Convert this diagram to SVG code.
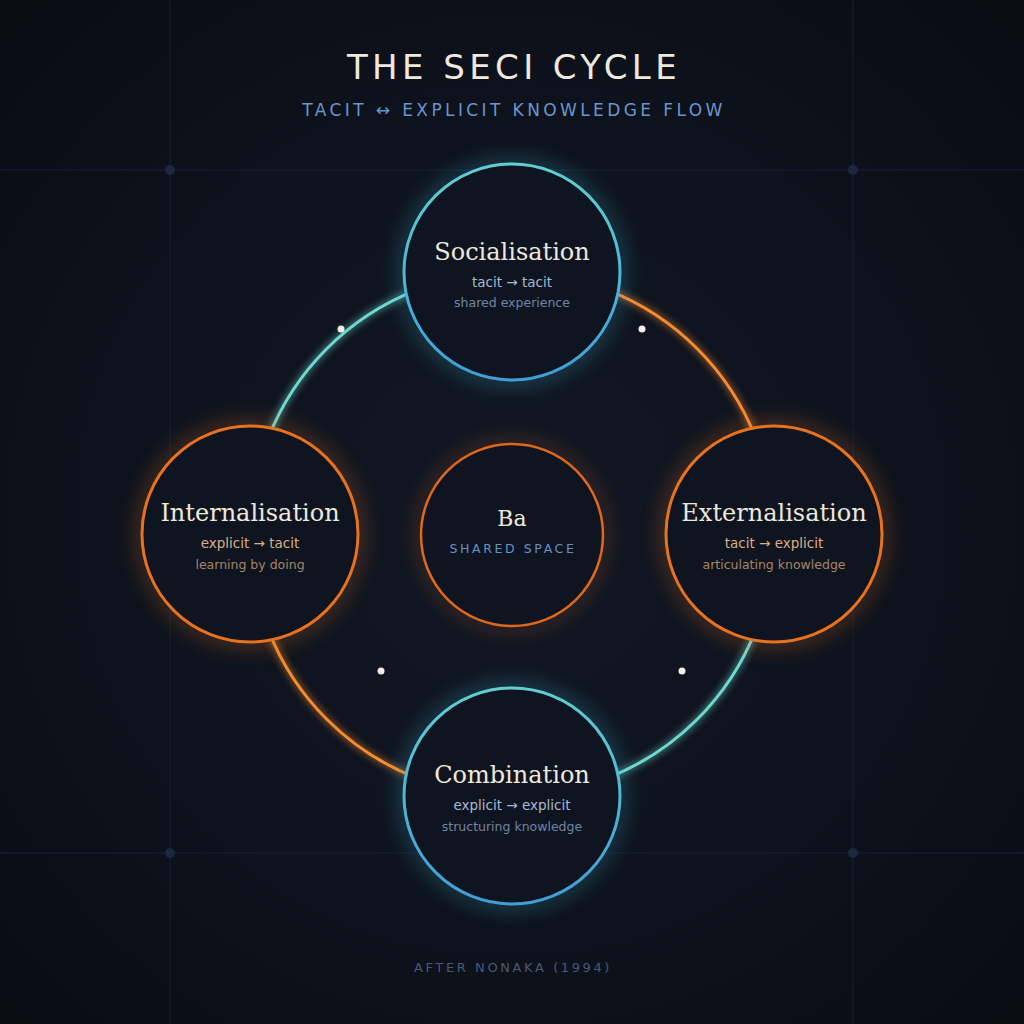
<svg xmlns="http://www.w3.org/2000/svg" width="1024" height="1024" viewBox="0 0 1024 1024">
  <defs>
    <radialGradient id="bg" cx="512" cy="520" r="700" gradientUnits="userSpaceOnUse">
      <stop offset="0" stop-color="#111724"/>
      <stop offset="0.6" stop-color="#0d121c"/>
      <stop offset="1" stop-color="#090c13"/>
    </radialGradient>
    <linearGradient id="tealStroke" x1="0" y1="0" x2="0" y2="1">
      <stop offset="0" stop-color="#5fd0d2"/>
      <stop offset="1" stop-color="#3f9ed6"/>
    </linearGradient>
    <filter id="glowBig" x="-50%" y="-50%" width="200%" height="200%">
      <feGaussianBlur stdDeviation="10"/>
    </filter>
    <filter id="glowArc" x="-20%" y="-20%" width="140%" height="140%">
      <feGaussianBlur stdDeviation="3.5"/>
    </filter>
    <style>
      .title{font-family:"DejaVu Sans",sans-serif;font-size:34px;letter-spacing:4.4px;fill:#efe9df;text-anchor:middle}
      .subtitle{font-family:"DejaVu Sans",sans-serif;font-size:17px;letter-spacing:3.4px;fill:#6a96cf;text-anchor:middle}
      .footer{font-family:"DejaVu Sans",sans-serif;font-size:13px;letter-spacing:2.6px;fill:#4a5876;text-anchor:middle}
      .grid{stroke:#172036;stroke-width:1;fill:none}
      .gdot{fill:#1c2740}
      .nfill{fill:#0f1520}
      .tealS{fill:none;stroke:url(#tealStroke);stroke-width:3}
      .orS{fill:none;stroke:#e8721d;stroke-width:3}
      .tealG{fill:none;stroke:#3fb3d0;stroke-width:8;opacity:0.5;filter:url(#glowBig)}
      .orG{fill:none;stroke:#e8721d;stroke-width:8;opacity:0.5;filter:url(#glowBig)}
      .ntitle{font-family:"DejaVu Serif",serif;font-size:24px;fill:#eee7db;text-anchor:middle}
      .l2t{font-family:"DejaVu Sans",sans-serif;font-size:13.5px;fill:#a9b8d3;text-anchor:middle}
      .l3t{font-family:"DejaVu Sans",sans-serif;font-size:12.5px;fill:#7384a2;text-anchor:middle}
      .l2o{font-family:"DejaVu Sans",sans-serif;font-size:13.5px;fill:#dcae84;text-anchor:middle}
      .l3o{font-family:"DejaVu Sans",sans-serif;font-size:12.5px;fill:#a78464;text-anchor:middle}
      .arcT{fill:none;stroke:#6fd8cf;stroke-width:3}
      .arcO{fill:none;stroke:#f68b2f;stroke-width:3}
      .arcTG{fill:none;stroke:#6fd8cf;stroke-width:6;opacity:0.5;filter:url(#glowArc)}
      .arcOG{fill:none;stroke:#f68b2f;stroke-width:6;opacity:0.5;filter:url(#glowArc)}
      .dot{fill:#f3eee4}
    </style>
  </defs>

  <rect width="1024" height="1024" fill="url(#bg)"/>

  <g id="grid">
    <line class="grid" x1="170" y1="0" x2="170" y2="1024"/>
    <line class="grid" x1="853" y1="0" x2="853" y2="1024"/>
    <line class="grid" x1="0" y1="170" x2="1024" y2="170"/>
    <line class="grid" x1="0" y1="853" x2="1024" y2="853"/>
    <circle class="gdot" cx="170" cy="170" r="5"/>
    <circle class="gdot" cx="853" cy="170" r="5"/>
    <circle class="gdot" cx="170" cy="853" r="5"/>
    <circle class="gdot" cx="853" cy="853" r="5"/>
  </g>

  <text class="title" x="514" y="79">THE SECI CYCLE</text>
  <text class="subtitle" x="514" y="116">TACIT ↔ EXPLICIT KNOWLEDGE FLOW</text>

  <g id="connectors">
    <path class="arcTG" d="M250 534 A262 262 0 0 1 512 272"/>
    <path class="arcT" d="M250 534 A262 262 0 0 1 512 272"/>
    <path class="arcOG" d="M512 272 A262 262 0 0 1 774 534"/>
    <path class="arcO" d="M512 272 A262 262 0 0 1 774 534"/>
    <path class="arcTG" d="M774 534 A262 262 0 0 1 512 796"/>
    <path class="arcT" d="M774 534 A262 262 0 0 1 512 796"/>
    <path class="arcOG" d="M512 796 A262 262 0 0 1 250 534"/>
    <path class="arcO" d="M512 796 A262 262 0 0 1 250 534"/>
    <circle class="dot" cx="341" cy="329" r="3.5"/>
    <circle class="dot" cx="642" cy="329" r="3.5"/>
    <circle class="dot" cx="381" cy="671" r="3.5"/>
    <circle class="dot" cx="682" cy="671" r="3.5"/>
  </g>

  <g id="ba">
    <circle class="orG" cx="512" cy="535" r="91" style="opacity:0.35"/>
    <circle class="nfill" cx="512" cy="535" r="91"/>
    <circle class="orS" cx="512" cy="535" r="91" style="stroke-width:2.5;stroke:#e0681a"/>
    <text x="512" y="526" style="font-family:'DejaVu Serif',serif;font-size:22px;fill:#eee7db;text-anchor:middle">Ba</text>
    <text x="513" y="553" style="font-family:'DejaVu Sans',sans-serif;font-size:12.5px;letter-spacing:2.6px;fill:#6690c8;text-anchor:middle">SHARED SPACE</text>
  </g>

  <g id="socialisation">
    <circle class="tealG" cx="512" cy="272" r="108"/>
    <circle class="nfill" cx="512" cy="272" r="108"/>
    <circle class="tealS" cx="512" cy="272" r="108"/>
    <text class="ntitle" x="512" y="260">Socialisation</text>
    <text class="l2t" x="512" y="287">tacit → tacit</text>
    <text class="l3t" x="512" y="307">shared experience</text>
  </g>

  <g id="externalisation">
    <circle class="orG" cx="774" cy="534" r="108"/>
    <circle class="nfill" cx="774" cy="534" r="108"/>
    <circle class="orS" cx="774" cy="534" r="108"/>
    <text class="ntitle" x="774" y="521">Externalisation</text>
    <text class="l2o" x="774" y="548">tacit → explicit</text>
    <text class="l3o" x="774" y="569">articulating knowledge</text>
  </g>

  <g id="combination">
    <circle class="tealG" cx="512" cy="796" r="108"/>
    <circle class="nfill" cx="512" cy="796" r="108"/>
    <circle class="tealS" cx="512" cy="796" r="108"/>
    <text class="ntitle" x="512" y="783">Combination</text>
    <text class="l2t" x="512" y="810">explicit → explicit</text>
    <text class="l3t" x="512" y="831">structuring knowledge</text>
  </g>

  <g id="internalisation">
    <circle class="orG" cx="250" cy="534" r="108"/>
    <circle class="nfill" cx="250" cy="534" r="108"/>
    <circle class="orS" cx="250" cy="534" r="108"/>
    <text class="ntitle" x="250" y="521">Internalisation</text>
    <text class="l2o" x="250" y="548">explicit → tacit</text>
    <text class="l3o" x="250" y="569">learning by doing</text>
  </g>

  <text class="footer" x="513" y="972">AFTER NONAKA (1994)</text>
</svg>
